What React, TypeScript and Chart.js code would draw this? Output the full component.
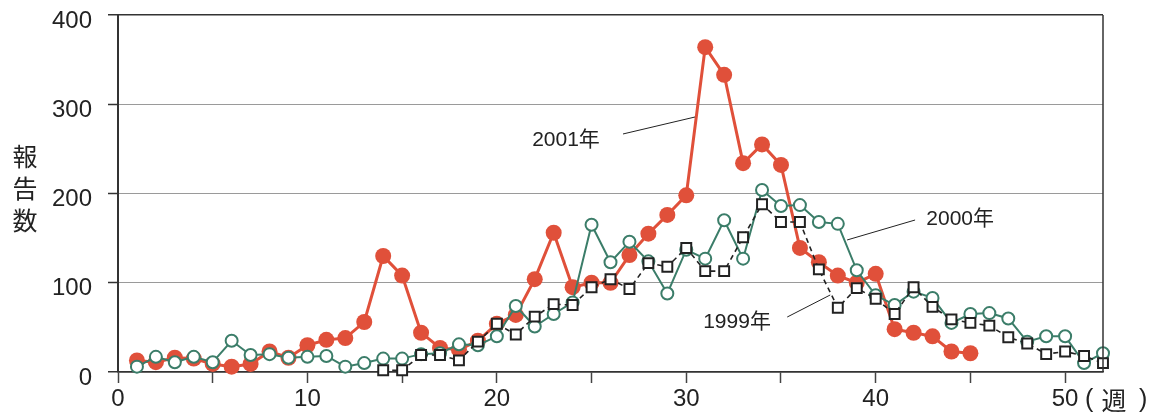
import React, { useEffect, useRef } from 'react';
import { Chart, registerables } from 'chart.js';

Chart.register(...registerables);

// ---- data ----
const weeks2001 = [1,2,3,4,5,6,7,8,9,10,11,12,13,14,15,16,17,18,19,20,21,22,23,24,25,26,27,28,29,30,31,32,33,34,35,36,37,38,39,40,41,42,43,44,45];
const cases2001 = [13,11,16,15,9,6,9,23,16,30,36,38,56,130,108,44,27,25,35,54,64,104,156,95,100,100,131,155,176,198,364,333,234,255,232,139,123,108,100,110,48,44,40,23,21];

const weeks2000 = [1,2,3,4,5,6,7,8,9,10,11,12,13,14,15,16,17,18,19,20,21,22,23,24,25,26,27,28,29,30,31,32,33,34,35,36,37,38,39,40,41,42,43,44,45,46,47,48,49,50,51,52];
const cases2000 = [6,17,11,17,11,35,19,20,16,17,18,6,10,15,15,20,21,31,30,40,74,51,65,78,165,123,146,124,88,137,127,170,127,204,186,187,168,166,114,86,75,90,83,55,65,66,60,34,40,40,10,21];

const weeks1999 = [14,15,16,17,18,19,20,21,22,23,24,25,26,27,28,29,30,31,32,33,34,35,36,37,38,39,40,41,42,43,44,45,46,47,48,49,50,51,52];
const cases1999 = [2,2,19,19,13,34,54,42,62,76,75,95,104,93,122,118,139,113,113,151,188,168,168,115,72,94,82,65,95,73,59,55,52,39,32,20,23,18,10];

const yTicks = [0, 100, 200, 300, 400];
const xLabelWeeks = [0, 10, 20, 30, 40, 50];
const yTitle = ['報', '告', '数'];
const xUnit = ['(', '週', ')'];

// annotations: label text, label position and leader line in data units
const annLabels = ['2001年', '2000年', '1999年'];
const annLabelX = [23.65, 44.46, 32.68];
const annLabelY = [260, 171, 56];
const annLine = [
  [26.66, 266.7, 30.46, 285.7],
  [42.08, 170.3, 38.49, 147.9],
  [35.33, 61.6, 37.6, 86.3],
];

const RED = '#e0503a';
const GREEN = '#3b7d69';
const DARK = '#222222';
const FONT = '"Liberation Sans", Arial, Helvetica, "Noto Sans CJK JP", sans-serif';
const CJK = '"Noto Sans CJK JP", "Liberation Sans", sans-serif';

const toPoints = (xs: number[], ys: number[]) => xs.map((x, i) => ({ x, y: ys[i] }));

const decor = {
  id: 'decor',
  afterDraw(chart: any) {
    const ctx = chart.ctx;
    const xs = chart.scales.x;
    const ys = chart.scales.y;
    const area = chart.chartArea;
    ctx.save();
    // right border
    ctx.strokeStyle = '#333';
    ctx.lineWidth = 1.5;
    ctx.beginPath();
    ctx.moveTo(area.right, area.top);
    ctx.lineTo(area.right, area.bottom);
    ctx.stroke();

    // y title, vertical
    ctx.fillStyle = DARK;
    ctx.font = `25px ${CJK}`;
    ctx.textAlign = 'center';
    ctx.textBaseline = 'middle';
    const midY = (ys.getPixelForValue(300) + ys.getPixelForValue(200)) / 2 + 41;
    yTitle.forEach((ch, i) => {
      ctx.fillText(ch, 25, midY - 33 + i * 32);
    });

    // unit after 50
    const p50 = xs.getPixelForValue(50);
    ctx.font = `25px ${FONT}`;
    ctx.fillText(xUnit[0], p50 + 24, 400);
    ctx.font = `25px ${CJK}`;
    ctx.fillText(xUnit[1], p50 + 49, 400);
    ctx.font = `25px ${FONT}`;
    ctx.fillText(xUnit[2], p50 + 78, 400);

    // annotations
    ctx.font = `21px ${FONT}`;
    ctx.fillStyle = DARK;
    ctx.strokeStyle = DARK;
    ctx.lineWidth = 1;
    annLabels.forEach((t, i) => {
      ctx.fillText(t, xs.getPixelForValue(annLabelX[i]), ys.getPixelForValue(annLabelY[i]));
      const l = annLine[i];
      ctx.beginPath();
      ctx.moveTo(xs.getPixelForValue(l[0]), ys.getPixelForValue(l[1]));
      ctx.lineTo(xs.getPixelForValue(l[2]), ys.getPixelForValue(l[3]));
      ctx.stroke();
    });
    ctx.restore();
  },
};

export default function App() {
  const ref = useRef<HTMLCanvasElement | null>(null);
  useEffect(() => {
    if (!ref.current) return;
    const chart = new Chart(ref.current, {
      type: 'line',
      data: {
        datasets: [
          {
            label: '1999年',
            data: toPoints(weeks1999, cases1999),
            borderColor: DARK,
            borderWidth: 1.6,
            borderDash: [5, 4],
            pointStyle: 'rect',
            pointRadius: 7,
            pointBorderWidth: 2,
            pointBorderColor: DARK,
            pointBackgroundColor: '#ffffff',
            tension: 0,
            clip: false,
            order: 1,
          },
          {
            label: '2000年',
            data: toPoints(weeks2000, cases2000),
            borderColor: GREEN,
            borderWidth: 2,
            pointStyle: 'circle',
            pointRadius: 6,
            pointBorderWidth: 2,
            pointBorderColor: GREEN,
            pointBackgroundColor: '#ffffff',
            tension: 0,
            clip: false,
            order: 2,
          },
          {
            label: '2001年',
            data: toPoints(weeks2001, cases2001),
            borderColor: RED,
            borderWidth: 3,
            pointStyle: 'circle',
            pointRadius: 8,
            pointBorderWidth: 0,
            pointBackgroundColor: RED,
            tension: 0,
            clip: false,
            order: 3,
          },
        ],
      },
      options: {
        responsive: false,
        animation: false,
        events: [],
        layout: { padding: { top: 15, right: 49, bottom: 0, left: 0 } },
        plugins: { legend: { display: false }, tooltip: { enabled: false } },
        scales: {
          x: {
            type: 'linear',
            min: 0,
            max: 52,
            afterFit: (s: any) => { s.height = 41; s.paddingLeft = 0; s.paddingRight = 0; },
            ticks: {
              stepSize: 5,
              includeBounds: false,
              autoSkip: false,
              maxRotation: 0,
              padding: 2,
              color: DARK,
              font: { family: FONT, size: 24 },
              callback: (v: any) => (xLabelWeeks.includes(Number(v)) ? String(v) : ''),
            },
            grid: {
              drawOnChartArea: false,
              drawTicks: true,
              tickLength: 11,
              tickColor: '#444',
              tickWidth: 1.5,
            },
            border: { display: true, color: '#333', width: 1.5 },
          },
          y: {
            type: 'linear',
            min: 0,
            max: 400,
            afterFit: (s: any) => { s.width = 118; s.paddingTop = 0; s.paddingBottom = 0; },
            afterBuildTicks: (s: any) => { s.ticks = yTicks.map((v) => ({ value: v })); },
            ticks: {
              stepSize: 100,
              labelOffset: 6,
              padding: 16,
              color: DARK,
              font: { family: FONT, size: 24 },
            },
            grid: {
              color: (c: any) => (c.tick && (c.tick.value === 0 || c.tick.value === 400) ? '#333' : '#9a9a9a'),
              lineWidth: (c: any) => (c.tick && (c.tick.value === 0 || c.tick.value === 400) ? 1.5 : 1),
              tickLength: 10,
              tickColor: '#333',
              tickWidth: 1.5,
            },
            border: { display: true, color: '#333', width: 2 },
          },
        },
      },
      plugins: [decor],
    } as any);
    return () => chart.destroy();
  }, []);

  return (
    <div style={{ position: 'absolute', left: 0, top: 0, width: 1152, height: 413, background: '#fff' }}>
      <canvas ref={ref} width={1152} height={413} style={{ width: 1152, height: 413, display: 'block' }} />
    </div>
  );
}
